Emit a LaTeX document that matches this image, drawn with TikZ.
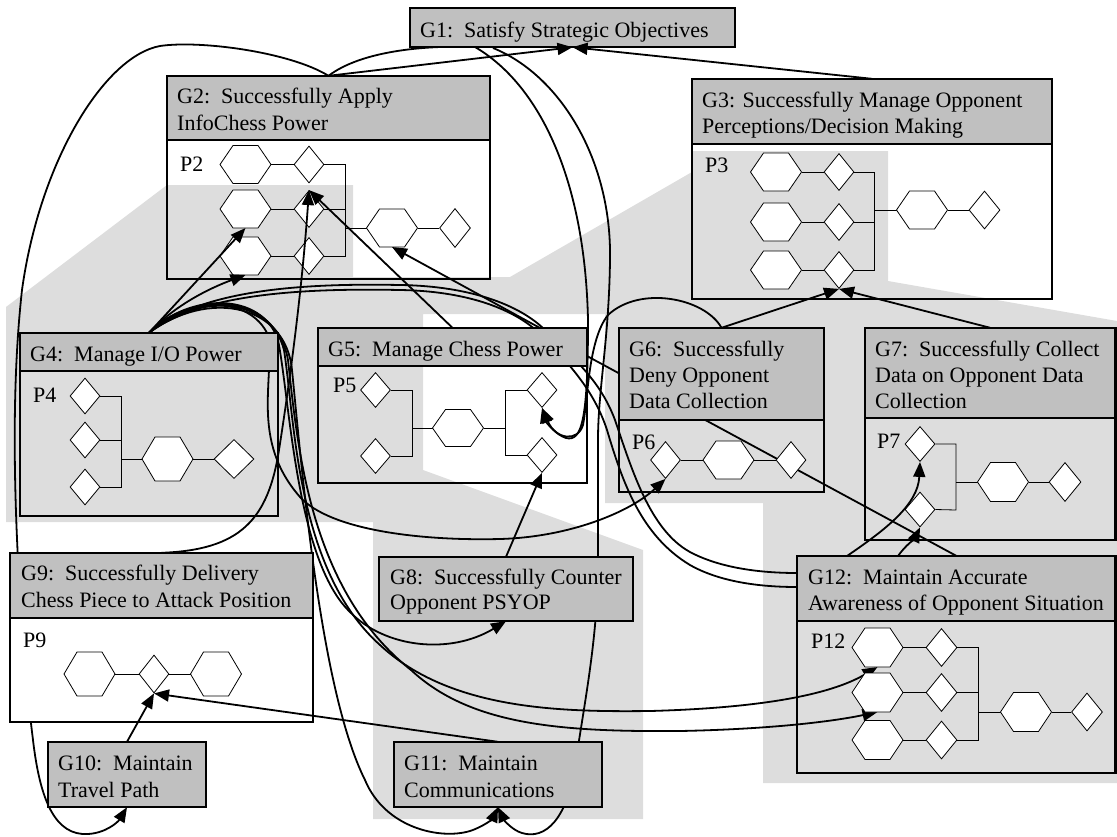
\documentclass[tikz,border=0pt]{standalone}
\usepackage{fontspec}
\setmainfont{Liberation Serif}
\usetikzlibrary{shapes.geometric,arrows.meta,fit}
\definecolor{bgc}{RGB}{221,221,221}
\definecolor{hdrc}{RGB}{192,192,192}
\pgfdeclarelayer{bgl}
\pgfdeclarelayer{backl}
\pgfsetlayers{bgl,backl,main}
\tikzset{
  bord/.style={line width=2.8pt},
  con/.style={line width=1.8pt},
  arr/.style={con,-{Triangle[length=15pt,width=12pt]}},
  icon/.style={line width=0.8pt},
  dia/.style={diamond,draw,line width=0.8pt,fill=white,inner sep=0pt,minimum width=30pt,minimum height=37pt},
  lab/.style={anchor=base west,inner sep=0pt,font=\fontsize{22}{26}\selectfont},
}
\newcommand{\hexa}[4]{%
  \draw[icon,fill=white] (#2-25.5,#3) -- (#2-12.5,#3-#4) -- (#2+12.5,#3-#4) -- (#2+25.5,#3) -- (#2+12.5,#3+#4) -- (#2-12.5,#3+#4) -- cycle;
  \coordinate (#1) at (#2,#3);
  \coordinate (#1s) at (#2,#3+#4);}
\newcommand{\gbox}[6]{%
  \fill[hdrc] (#2,#3) rectangle (#4,#6);
  \draw[bord] (#2,#6) -- (#4,#6);
  \draw[bord] (#2,#3) rectangle (#4,#5);
  \node[fit={(#2,#3) (#4,#5)},inner sep=0pt] (#1) {};}
\begin{document}
\begin{tikzpicture}[x=1pt,y=-1pt]
\useasboundingbox (0,0) rectangle (1117,836);
\begin{pgfonlayer}{bgl}
\fill[bgc] (6,307) -- (167,185) -- (353,185) -- (353,277) -- (510,277) -- (692,172) -- (692,151) -- (888,151) -- (888,281) -- (1117,321) -- (1117,783) -- (763,783) -- (763,503) -- (605,503) -- (605,314) -- (423,314) -- (423,470) -- (643,550) -- (643,819) -- (373,819) -- (373,522) -- (6,522) -- cycle;
\end{pgfonlayer}

% boxes
\fill[white] (10,618) rectangle (313,722);
\gbox{G1}{410}{8}{735}{47}{47}
\gbox{G2}{167}{76}{490}{279}{140}
\gbox{G3}{692}{79}{1052}{299}{144}
\gbox{G4}{20}{333}{278}{516}{371}
\gbox{G5}{318}{328}{587}{483}{366}
\gbox{G6}{619}{328}{824}{492}{420}
\gbox{G7}{865}{328}{1115.5}{540}{418}
\gbox{G12}{797}{556}{1115.5}{773}{621}
\gbox{G9}{10}{553}{313}{722}{618}
\gbox{G8}{379}{557}{633}{621}{621}
\gbox{G10}{48}{742}{206}{807}{807}
\gbox{G11}{394}{742}{602}{807}{807}

% titles
\node[lab] (t1) at (420,37) {G1:\ \ Satisfy Strategic Objectives};
\node[lab] (t2a) at (177,103) {G2:\ \ Successfully Apply};
\node[lab] (t2b) at (177,130) {InfoChess Power};
\node[lab] (t3a) at (702,107) {G3: Successfully Manage Opponent};
\node[lab] (t3b) at (702,133) {Perceptions/Decision Making};
\node[lab] (t4) at (30,361) {G4:\ \ Manage I/O Power};
\node[lab] (t5) at (328,356) {G5:\ \ Manage Chess Power};
\node[lab] (t6a) at (629,356) {G6:\ \ Successfully};
\node[lab] (t6b) at (629,382) {Deny Opponent};
\node[lab] (t6c) at (629,408) {Data Collection};
\node[lab] (t7a) at (875,356) {G7:\ \ Successfully Collect};
\node[lab] (t7b) at (875,382) {Data on Opponent Data};
\node[lab] (t7c) at (875,408) {Collection};
\node[lab] (t12a) at (808,584) {G12:\ \ Maintain Accurate};
\node[lab] (t12b) at (808,610) {Awareness of Opponent Situation};
\node[lab] (t9a) at (21,580) {G9:\ \ Successfully Delivery};
\node[lab] (t9b) at (21,607) {Chess Piece to Attack Position};
\node[lab] (t8a) at (390,584) {G8:\ \ Successfully Counter};
\node[lab] (t8b) at (390,609) {Opponent PSYOP};
\node[lab] (t10a) at (58,770) {G10:\ \ Maintain};
\node[lab] (t10b) at (58,797) {Travel Path};
\node[lab] (t11a) at (404,770) {G11:\ \ Maintain};
\node[lab] (t11b) at (404,797) {Communications};
\node[lab] (p2) at (180,171) {P2};
\node[lab] (p3) at (705,172) {P3};
\node[lab] (p4) at (33,402) {P4};
\node[lab] (p5) at (333,392) {P5};
\node[lab] (p6) at (632,449) {P6};
\node[lab] (p7) at (877,448) {P7};
\node[lab] (p9) at (23,647) {P9};
\node[lab] (p12) at (811,648) {P12};

% P2
\hexa{h2a}{245.5}{164.5}{19}
\hexa{h2b}{245.5}{209}{19}
\hexa{h2c}{245.5}{256}{19}
\node[dia] (d2a) at (309,164.5) {};
\node[dia] (d2b) at (309,209) {};
\node[dia] (d2c) at (309,256) {};
\draw[icon] (271,164.5) -- (d2a.west) (271,209) -- (d2b.west) (271,256) -- (d2c.west);
\draw[icon] (d2a.east) -- (345,164.5) -- (345,256) -- (d2c.east);
\draw[icon] (d2b.east) -- (345,209);
\draw[icon] (345,228) -- (366.5,228);
\hexa{h2o}{392}{228}{19}
\node[dia,minimum width=31pt,minimum height=39pt] (d2o) at (455,228) {};
\draw[icon] (417.5,228) -- (d2o.west);

% P3
\hexa{h3a}{776}{172}{19}
\hexa{h3b}{776}{222}{19}
\hexa{h3c}{776}{270}{19}
\node[dia] (d3a) at (839,172) {};
\node[dia] (d3b) at (839,222) {};
\node[dia] (d3c) at (839,270) {};
\draw[icon] (801.5,172) -- (d3a.west) (801.5,222) -- (d3b.west) (801.5,270) -- (d3c.west);
\draw[icon] (d3a.east) -- (874,172) -- (874,270) -- (d3c.east);
\draw[icon] (d3b.east) -- (874,222);
\draw[icon] (874,210) -- (896.5,210);
\hexa{h3o}{922}{210}{19}
\node[dia,minimum width=31pt,minimum height=38pt] (d3o) at (984.5,210) {};
\draw[icon] (947.5,210) -- (d3o.west);

% P4
\node[dia,minimum height=36pt] (d4a) at (85,396) {};
\node[dia,minimum height=36pt] (d4b) at (85,440) {};
\node[dia,minimum height=36pt] (d4c) at (85,487) {};
\draw[icon] (d4a.east) -- (121,396) -- (121,487) -- (d4c.east);
\draw[icon] (d4b.east) -- (121,440);
\draw[icon] (121,459) -- (142,459);
\hexa{h4o}{167.5}{459}{22}
\node[dia,minimum width=40pt,minimum height=39pt] (d4o) at (234,459) {};
\draw[icon] (193,459) -- (d4o.west);

% P5
\node[dia,minimum height=35pt] (d5a) at (375.5,390) {};
\node[dia,minimum height=35pt] (d5b) at (375.5,456) {};
\draw[icon] (d5a.east) -- (412,390) -- (412,456) -- (d5b.east);
\draw[icon] (412,428) -- (432.5,428);
\hexa{h5o}{458}{428}{18.5}
\draw[icon] (483.5,428) -- (505,428);
\node[dia,minimum height=35pt] (d5c) at (542,390) {};
\node[dia,minimum height=35pt] (d5d) at (542,455) {};
\draw[icon] (d5c.west) -- (505,390) -- (505,455) -- (d5d.west);

% P6
\node[dia] (d6a) at (665.5,460) {};
\hexa{h6}{728.5}{460}{19}
\node[dia] (d6b) at (791,460) {};
\draw[icon] (d6a.east) -- (703,460) (754,460) -- (d6b.west);

% P7
\node[dia,minimum height=35pt] (d7a) at (920,444) {};
\node[dia,minimum height=35pt] (d7b) at (920,509.5) {};
\draw[icon] (d7a.east) -- (956,444) -- (956,510) -- (d7b.east);
\draw[icon] (956,482) -- (977.5,482);
\hexa{h7}{1003}{482}{19.5}
\node[dia,minimum width=32pt,minimum height=39pt] (d7o) at (1065,482) {};
\draw[icon] (1028.5,482) -- (d7o.west);

% P12
\hexa{h12a}{877.5}{647.5}{19.5}
\hexa{h12b}{877.5}{692.5}{19.5}
\hexa{h12c}{877.5}{740}{19.5}
\node[dia,minimum width=31pt,minimum height=38pt] (d12a) at (941.5,647.5) {};
\node[dia,minimum width=31pt,minimum height=38pt] (d12b) at (941.5,692.5) {};
\node[dia,minimum width=31pt,minimum height=38pt] (d12c) at (941.5,740) {};
\draw[icon] (903,647.5) -- (d12a.west) (903,692.5) -- (d12b.west) (903,740) -- (d12c.west);
\draw[icon] (d12a.east) -- (978,647.5) -- (978,740) -- (d12c.east);
\draw[icon] (d12b.east) -- (978,692.5);
\draw[icon] (978,712) -- (1000.5,712);
\hexa{h12o}{1026}{712}{19.5}
\node[dia,minimum width=31pt,minimum height=38pt] (d12o) at (1087,712) {};
\draw[icon] (1051.5,712) -- (d12o.west);

% P9
\hexa{h9a}{89.5}{674}{22}
\node[dia,minimum height=38pt] (d9) at (154,674) {};
\hexa{h9b}{216}{674}{22}
\draw[icon] (115,674) -- (d9.west) (d9.east) -- (190.5,674);

% free coordinates
\coordinate (c5r) at (540,328);
\coordinate (c5g) at (587,356);
\coordinate (c1b) at (493,48);
\coordinate (c12a) at (847,556);
\coordinate (c12b) at (898,556);
\coordinate (c12l1) at (797,573);
\coordinate (c12l2) at (797,587);

% connectors behind boxes
\begin{pgfonlayer}{backl}
\draw[arr] (G2.north) .. controls (290,52) and (200,40) .. (160,46) .. controls (105,56) and (40,160) .. (22,290) .. controls (12,380) and (14,480) .. (18,560) .. controls (22,640) and (28,700) .. (33,740) .. controls (40,800) and (55,836) .. (88,834) .. controls (106,833) and (118,822) .. (G10.south);
\draw[arr] (G2.north) .. controls (360,52) and (420,45) .. (475,47) .. controls (540,85) and (585,180) .. (588,320) .. controls (588,420) and (582,442) .. (566,438) .. controls (556,435) and (546,422) .. (d5c.south);
\draw[arr] (c1b) .. controls (560,75) and (612,160) .. (610,260) .. controls (609,340) and (598,390) .. (598,440) -- (598,570) .. controls (597,640) and (585,700) .. (576,760) .. controls (568,820) and (545,840) .. (522,833) .. controls (512,830) and (504,820) .. (G11.south);
\draw[arr] (G6.north) .. controls (705,298) and (640,285) .. (608,315) .. controls (588,340) and (588,400) .. (583,425) .. controls (578,442) and (556,440) .. (d5c.south);
\draw[con] (c5g) -- (G12.north);
\draw[con] (G4.north) .. controls (200,290) and (300,283) .. (400,285) .. controls (470,286) and (520,305) .. (545,330) .. controls (575,360) and (600,380) .. (615,420) .. controls (632,470) and (650,530) .. (690,552) .. controls (720,568) and (760,573) .. (c12l1);
\draw[con] (G4.north) .. controls (200,294) and (300,288) .. (400,290) .. controls (465,291) and (512,308) .. (538,332) .. controls (568,362) and (594,390) .. (607,430) .. controls (622,480) and (640,535) .. (690,565) .. controls (720,582) and (760,587) .. (c12l2);
\draw[arr] (G4.north) .. controls (185,296) and (250,295) .. (268,335) .. controls (275,380) and (250,440) .. (300,497) .. controls (330,530) and (420,541) .. (500,539) .. controls (570,537) and (630,512) .. (d6a.south);
\draw[arr] (G4.north) .. controls (190,292) and (262,292) .. (278,340) .. controls (290,400) and (296,560) .. (350,612) .. controls (385,648) and (450,655) .. (G8.south);
\draw[arr] (G4.north) .. controls (200,290) and (270,296) .. (284,350) .. controls (295,420) and (296,570) .. (380,645) .. controls (450,710) and (560,712) .. (650,711) .. controls (760,708) and (830,695) .. (h12as);
\draw[arr] (G4.north) .. controls (205,288) and (278,300) .. (288,360) .. controls (298,450) and (310,590) .. (411,670) .. controls (470,725) and (560,732) .. (680,731) .. controls (780,729) and (840,720) .. (h12bs);
\draw[arr] (G4.north) .. controls (210,288) and (286,305) .. (292,370) .. controls (302,470) and (320,690) .. (365,780) .. controls (385,828) and (440,840) .. (470,831) .. controls (485,826) and (493,818) .. (G11.south);
\end{pgfonlayer}

% connectors on top
\draw[arr] (G2.north) -- (G1.south);
\draw[arr] (G3.north) -- (G1.south);
\draw[arr] (G4.north) -- (h2bs);
\draw[arr] (G4.north) .. controls (175,305) and (210,288) .. (h2cs);
\draw[arr] (G5.north) -- (d2b.north);
\draw[arr] (c5r) -- (h2os);
\draw[arr] (G9.north) .. controls (240,550) and (268,520) .. (279,450) .. controls (290,380) and (302,290) .. (d2b.north);
\draw[arr] (G8.north) -- (d5d.south);
\draw[arr] (G10.north) -- (d9.south);
\draw[arr] (G11.north) -- (d9.south);
\draw[arr] (G6.north) -- (d3c.south);
\draw[arr] (G7.north) -- (d3c.south);
\draw[arr] (c12a) .. controls (885,530) and (918,505) .. (d7a.south);
\draw[arr] (c12b) .. controls (905,546) and (915,538) .. (d7b.south);
\end{tikzpicture}
\end{document}
